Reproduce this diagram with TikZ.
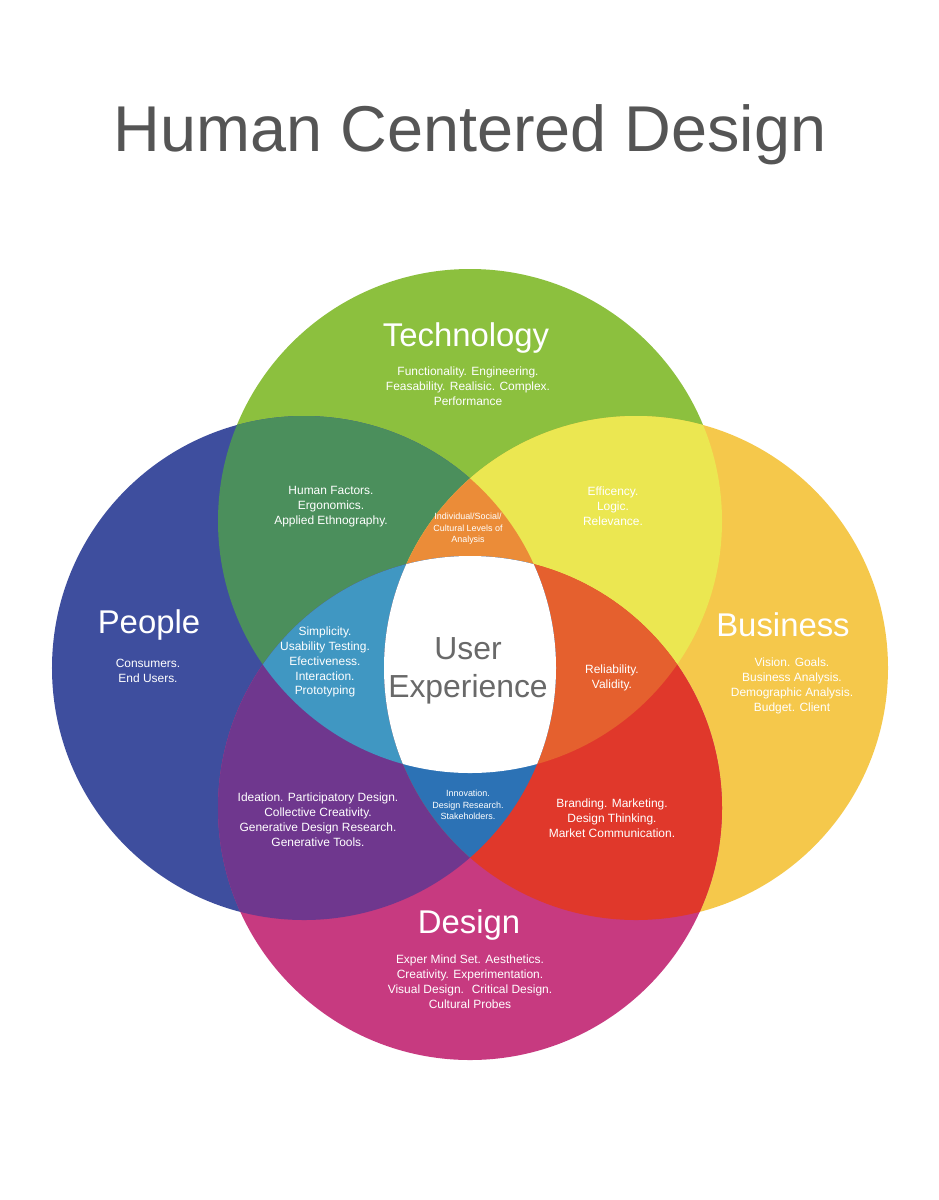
\documentclass[tikz,border=0pt]{standalone}
\usepackage{fontspec}
\setmainfont{Liberation Sans}
\usepackage{tikz}
\usetikzlibrary{positioning}
\definecolor{titlegray}{RGB}{85, 85, 85}
\definecolor{uxgray}{RGB}{105, 105, 105}
\definecolor{techgreen}{RGB}{140, 192, 62}
\definecolor{peopleblue}{RGB}{62, 78, 158}
\definecolor{businessyellow}{RGB}{245, 200, 75}
\definecolor{designmagenta}{RGB}{199, 58, 128}
\definecolor{tpgreen}{RGB}{75, 143, 92}
\definecolor{tbyellow}{RGB}{235, 231, 81}
\definecolor{pdpurple}{RGB}{111, 55, 142}
\definecolor{bdred}{RGB}{224, 56, 43}
\definecolor{tpborange}{RGB}{235, 140, 56}
\definecolor{tpdblue}{RGB}{64, 151, 194}
\definecolor{tbdorange}{RGB}{229, 96, 46}
\definecolor{pbdblue}{RGB}{44, 114, 181}
\newcommand{\rad}{252bp}
\def\techcirc{(tech) circle[radius=\rad]}
\def\peoplecirc{(people) circle[radius=\rad]}
\def\businesscirc{(business) circle[radius=\rad]}
\def\designcirc{(design) circle[radius=\rad]}

\begin{document}
\begin{tikzpicture}[
    x=1bp, y=-1bp,
    bigtitle/.style={font=\fontsize{65}{70}\selectfont, text=titlegray, inner sep=0pt},
    headlabel/.style={font=\fontsize{33}{36}\selectfont, text=white, inner sep=0pt},
    desclabel/.style={font=\fontsize{12}{15}\selectfont, text=white, align=center, inner sep=0pt},
    tinylabel/.style={font=\fontsize{9}{11.5}\selectfont, text=white, align=center, inner sep=0pt},
    uxlabel/.style={font=\fontsize{32}{38}\selectfont, text=uxgray, align=center, inner sep=0pt}
]
    \useasboundingbox[fill=white] (0,0) rectangle (939,1200);

    % Circle centres
    \coordinate (tech) at (470, 521);
    \coordinate (people) at (304, 668);
    \coordinate (business) at (636, 668);
    \coordinate (design) at (470, 808);

    % Single circles
    \fill[techgreen] \techcirc;
    \fill[peopleblue] \peoplecirc;
    \fill[businessyellow] \businesscirc;
    \fill[designmagenta] \designcirc;

    % Pairwise overlaps
    \begin{scope}\clip \techcirc; \fill[tpgreen] \peoplecirc; \end{scope}
    \begin{scope}\clip \techcirc; \fill[tbyellow] \businesscirc; \end{scope}
    \begin{scope}\clip \peoplecirc; \fill[pdpurple] \designcirc; \end{scope}
    \begin{scope}\clip \businesscirc; \fill[bdred] \designcirc; \end{scope}

    % Triple overlaps
    \begin{scope}\clip \techcirc; \clip \peoplecirc; \fill[tpborange] \businesscirc; \end{scope}
    \begin{scope}\clip \techcirc; \clip \peoplecirc; \fill[tpdblue] \designcirc; \end{scope}
    \begin{scope}\clip \techcirc; \clip \businesscirc; \fill[tbdorange] \designcirc; \end{scope}
    \begin{scope}\clip \peoplecirc; \clip \businesscirc; \fill[pbdblue] \designcirc; \end{scope}

    % Centre: all four
    \begin{scope}\clip \techcirc; \clip \peoplecirc; \clip \businesscirc; \fill[white] \designcirc; \end{scope}

    % Title
    \node[bigtitle] (title) at (470, 135) {Human Centered Design};

    % Technology
    \node[headlabel] (techname) at (466, 338) {Technology};
    \node[desclabel] (techdesc) at (468, 386) {Functionality. Engineering.\\Feasability. Realisic. Complex.\\Performance};

    % People
    \node[headlabel] (peoplename) at (149, 625) {People};
    \node[desclabel] (peopledesc) at (148, 671) {Consumers.\\End Users.};

    % Business
    \node[headlabel] (businessname) at (783, 625) {Business};
    \node[desclabel] (businessdesc) at (792, 686) {Vision. Goals.\\Business Analysis.\\Demographic Analysis.\\Budget. Client};

    % Design
    \node[headlabel] (designname) at (469, 925) {Design};
    \node[desclabel] (designdesc) at (470, 982) {Exper Mind Set. Aesthetics.\\Creativity. Experimentation.\\Visual Design.~ Critical Design.\\Cultural Probes};

    % Overlaps
    \node[desclabel] (tplabel) at (331, 507) {Human Factors.\\Ergonomics.\\Applied Ethnography.};
    \node[desclabel] (tblabel) at (613, 506) {Efficency.\\Logic.\\Relevance.};
    \node[desclabel] (pdlabel) at (318, 820) {Ideation. Participatory Design.\\Collective Creativity.\\Generative Design Research.\\Generative Tools.};
    \node[desclabel] (bdlabel) at (612, 818) {Branding. Marketing.\\Design Thinking.\\Market Communication.};

    \node[tinylabel] (tpblabel) at (468, 529) {Individual/Social/\\Cultural Levels of\\Analysis};
    \node[desclabel] (tpdlabel) at (325, 662) {Simplicity.\\Usability Testing.\\Efectiveness.\\Interaction.\\Prototyping};
    \node[desclabel] (tbdlabel) at (612, 678) {Reliability.\\Validity.};
    \node[tinylabel] (pbdlabel) at (468, 805) {Innovation.\\Design Research.\\Stakeholders.};

    % User Experience
    \node[uxlabel] (ux) at (468, 671) {User\\Experience};
\end{tikzpicture}
\end{document}
